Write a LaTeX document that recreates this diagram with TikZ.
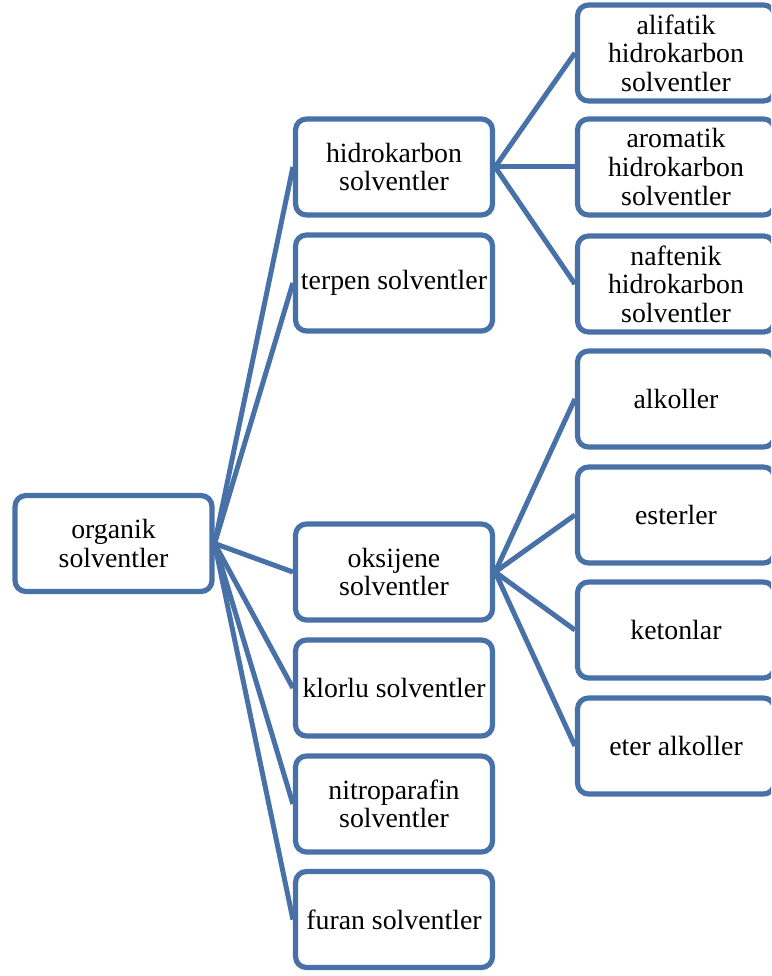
\documentclass[tikz,border=0pt]{standalone}
\usepackage{fontspec}
\setmainfont{Liberation Serif}
\definecolor{boxline}{RGB}{72,113,168}
\begin{document}
\begin{tikzpicture}[x=1pt,y=-1pt,
  catbox/.style={draw=boxline, line width=5.2pt, rounded corners=11pt, fill=white,
    minimum width=197pt, minimum height=96pt, inner sep=0pt, align=center,
    font=\fontsize{27.8}{28.6}\selectfont},
  link/.style={draw=boxline, line width=5pt}]
\clip (0,0) rectangle (771,976);
% root
\node[catbox] (root) at (113.5,543.5) {organik\\solventler};
% second level
\node[catbox] (hid) at (394,167) {hidrokarbon\\solventler};
\node[catbox] (ter) at (394,283) {terpen solventler};
\node[catbox] (oks) at (394,572) {oksijene\\solventler};
\node[catbox] (klo) at (394,688) {klorlu solventler};
\node[catbox] (nit) at (394,804) {nitroparafin\\solventler};
\node[catbox] (fur) at (394,919.5) {furan solventler};
% third level (the right edges run past the frame)
\node[catbox] (ali) at (676,53) {alifatik\\hidrokarbon\\solventler};
\node[catbox] (aro) at (676,167) {aromatik\\hidrokarbon\\solventler};
\node[catbox] (naf) at (676,284) {naftenik\\hidrokarbon\\solventler};
\node[catbox] (alk) at (676,399) {alkoller};
\node[catbox] (est) at (676,515) {esterler};
\node[catbox] (ket) at (676,630) {ketonlar};
\node[catbox] (eta) at (676,746) {eter alkoller};
% connectors
\foreach \c in {hid,ter,oks,klo,nit,fur}
  \draw[link] (root.east) -- (\c.west);
\foreach \c in {ali,aro,naf}
  \draw[link] (hid.east) -- (\c.west);
\foreach \c in {alk,est,ket,eta}
  \draw[link] (oks.east) -- (\c.west);
\end{tikzpicture}
\end{document}
